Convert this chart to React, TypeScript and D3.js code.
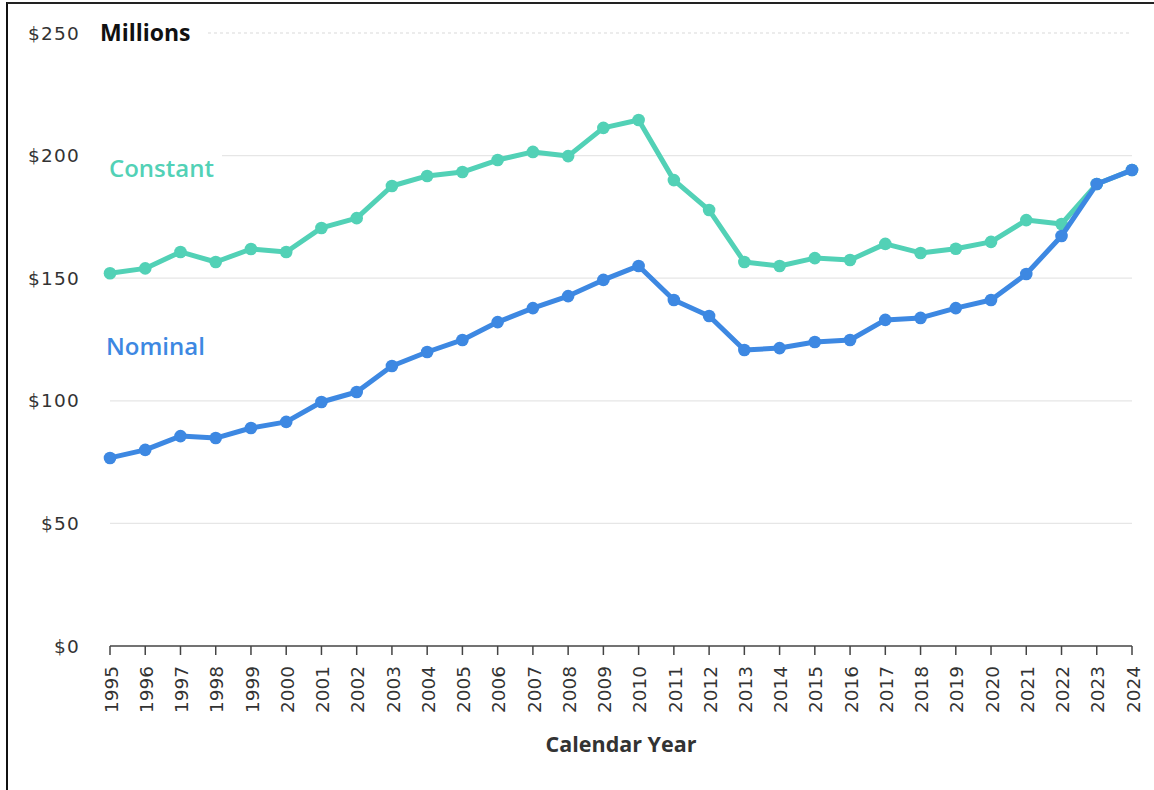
import React, { useEffect, useRef } from "react";
import * as d3 from "d3";

const years = d3.range(1995, 2025);

const constantValues = [
  152, 154, 160.7, 156.6, 161.9, 160.7, 170.5, 174.5, 187.6, 191.7, 193.3, 198.2,
  201.5, 199.8, 211.3, 214.5, 190, 177.8, 156.6, 155, 158.2, 157.4, 164, 160.3,
  162, 164.8, 173.7, 172.1, 188.4, 194.1,
];

const nominalValues = [
  76.7, 80, 85.6, 84.8, 88.9, 91.4, 99.5, 103.6, 114.2, 119.9, 124.8, 132.1,
  137.8, 142.7, 149.3, 155, 141.1, 134.6, 120.7, 121.5, 124, 124.8, 133, 133.8,
  137.8, 141.1, 151.7, 167.2, 188.4, 194.1,
];

const yTicks = [0, 50, 100, 150, 200, 250];

const FONT = "'Open Sans', 'Noto Sans', sans-serif";
const TICK_FONT = "'DejaVu Sans', Verdana, sans-serif";

const App: React.FC = () => {
  const svgRef = useRef<SVGSVGElement | null>(null);

  useEffect(() => {
    if (!svgRef.current) return;
    const width = 1154;
    const height = 790;
    const svg = d3.select(svgRef.current);
    svg.selectAll("*").remove();
    svg.attr("width", width).attr("height", height);

    svg.append("rect").attr("width", width).attr("height", height).attr("fill", "#fff");

    // frame (left and top edges only visible)
    svg.append("line").attr("x1", 7).attr("x2", 7).attr("y1", 2).attr("y2", height)
      .attr("stroke", "#111").attr("stroke-width", 2);
    svg.append("line").attr("x1", 7).attr("x2", width).attr("y1", 3).attr("y2", 3)
      .attr("stroke", "#222").attr("stroke-width", 2);

    const x = d3.scalePoint<number>().domain(years).range([110, 1132]);
    const y = d3.scaleLinear().domain([0, 250]).range([646, 33]);

    // gridlines
    const grid = svg.append("g");
    yTicks.filter((t) => t > 0).forEach((t) => {
      const startX = t === 250 ? 208 : t === 200 ? 222 : 110;
      grid.append("line")
        .attr("x1", startX).attr("x2", 1132)
        .attr("y1", y(t)).attr("y2", y(t))
        .attr("stroke", "#e6e6e6")
        .attr("stroke-width", 1.3)
        .attr("stroke-dasharray", t === 250 ? "3,3" : null);
    });

    // y tick labels
    svg.append("g").selectAll("text").data(yTicks).enter().append("text")
      .attr("x", 80).attr("y", (d) => y(d))
      .attr("dy", "0.36em")
      .attr("text-anchor", "end")
      .attr("font-family", TICK_FONT).attr("font-size", 18.5)
      .attr("letter-spacing", 1.2).attr("fill", "#333")
      .text((d) => `$${d}`);

    svg.append("text").attr("x", 100).attr("y", y(250)).attr("dy", "0.36em")
      .attr("font-family", FONT).attr("font-size", 23).attr("font-weight", 700)
      .attr("fill", "#111").text("Millions");

    // x axis
    const axis = svg.append("g");
    axis.append("line").attr("x1", 110).attr("x2", 1132).attr("y1", 646).attr("y2", 646)
      .attr("stroke", "#444").attr("stroke-width", 1.5);
    axis.selectAll("line.tick").data(years).enter().append("line")
      .attr("class", "tick")
      .attr("x1", (d) => x(d)!).attr("x2", (d) => x(d)!)
      .attr("y1", 646).attr("y2", 655)
      .attr("stroke", "#444").attr("stroke-width", 1.5);
    axis.selectAll("text").data(years).enter().append("text")
      .attr("transform", (d) => `translate(${x(d)! + 1},666) rotate(-90)`)
      .attr("text-anchor", "end")
      .attr("dy", "0.36em")
      .attr("font-family", TICK_FONT).attr("font-size", 18.5).attr("fill", "#333")
      .text((d) => String(d));

    svg.append("text").attr("x", 621).attr("y", 744).attr("dy", "0.36em")
      .attr("text-anchor", "middle")
      .attr("font-family", FONT).attr("font-size", 21.5).attr("font-weight", 700)
      .attr("fill", "#333").text("Calendar Year");

    const series = [
      { name: "Constant", values: constantValues, color: "#52d1b6", lx: 109, ly: 168 },
      { name: "Nominal", values: nominalValues, color: "#3d88e2", lx: 106, ly: 346 },
    ];

    const line = d3.line<number>()
      .x((_, i) => x(years[i])!)
      .y((d) => y(d));

    series.forEach((s) => {
      const g = svg.append("g");
      g.append("path").datum(s.values)
        .attr("fill", "none").attr("stroke", s.color).attr("stroke-width", 5)
        .attr("stroke-linejoin", "round")
        .attr("d", line);
      g.selectAll("circle").data(s.values).enter().append("circle")
        .attr("cx", (_, i) => x(years[i])!)
        .attr("cy", (d) => y(d))
        .attr("r", 6.3)
        .attr("fill", s.color);
      svg.append("text").attr("x", s.lx).attr("y", s.ly).attr("dy", "0.36em")
        .attr("font-family", FONT).attr("font-size", 24).attr("font-weight", 600)
        .attr("fill", s.color).text(s.name);
    });
  }, []);

  return <svg ref={svgRef} style={{ position: "absolute", left: 0, top: 0 }} />;
};

export default App;
